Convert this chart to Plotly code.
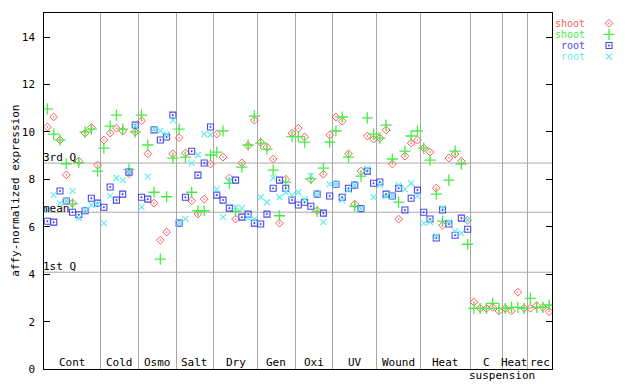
import numpy as np
import plotly.graph_objects as go

groups = ["Cont", "Cold", "Osmo", "Salt", "Dry", "Gen", "Oxi", "UV", "Wound", "Heat", "C", "Heat", "rec"]
counts = [9, 6, 6, 6, 7, 6, 6, 7, 7, 8, 5, 4, 4]

shoot_red = [10.21, 10.63, 9.66, 8.19, 7.0, 8.77, 9.95, 10.19, 8.6,
             9.66, 9.95, 10.16, 10.04, 8.24, 10.0,
             10.47, 9.08, 7.0, 5.44, 5.78, 9.08,
             9.76, 9.11, 7.1, 6.54, 7.17, 8.65,
             9.91, 8.94, 8.06, 6.33, 8.7, 9.42, 10.5,
             9.56, 9.36, 8.86, 6.16, 8.01, 9.95,
             10.16, 9.79, 8.0, 6.69, 8.22, 9.87,
             10.63, 10.45, 9.08, 6.96, 8.35, 9.83, 9.7,
             9.74, 10.08, 8.65, 6.33, 8.98, 9.53, 9.66,
             9.32, 9.15, 7.63, 6.07, 8.9, 9.07, 8.77, 6.28,
             2.83, 2.57, 2.57, 2.61, 2.46,
             2.57, 2.46, 3.25, 2.57,
             2.57, 2.68, 2.61, 2.43]
shoot_green = [10.97, 9.91, 9.66, 8.66, 6.97, 8.71, 10.0, 10.12, 8.35,
               9.32, 10.25, 10.71, 10.12, 8.42, 10.0,
               10.71, 9.45, 7.46, 4.64, 7.27, 8.9,
               10.12, 8.94, 7.46, 6.68, 6.68, 9.03,
               9.15, 10.04, 7.84, 6.66, 8.52, 9.45, 10.67,
               9.53, 9.28, 8.39, 6.47, 7.89, 9.8,
               9.8, 9.57, 8.03, 6.65, 8.48, 9.57,
               10.04, 10.63, 8.94, 6.87, 8.14, 10.59, 9.91,
               9.74, 10.29, 8.86, 7.04, 9.19, 9.83, 10.04,
               9.32, 8.81, 7.38, 6.24, 7.97, 9.19, 8.65, 5.27,
               2.57, 2.57, 2.57, 2.78, 2.57,
               2.57, 2.61, 2.61, 2.57,
               2.99, 2.61, 2.61, 2.71]
root_blue = [6.24, 6.2, 7.51, 7.09, 6.62, 6.51, 6.68, 7.21, 7.0,
             6.83, 7.68, 7.13, 7.38, 8.31, 10.29,
             7.25, 7.17, 10.09, 9.66, 9.79, 10.71,
             6.16, 7.25, 9.19, 8.18, 8.69, 10.21,
             7.34, 7.13, 6.79, 7.97, 6.41, 6.54, 6.16,
             6.12, 6.54, 7.63, 7.97, 7.63, 7.13,
             6.92, 7.04, 6.87, 7.38, 6.58, 7.3,
             7.8, 7.25, 7.63, 7.76, 6.77, 8.35, 7.84,
             7.89, 7.38, 7.3, 7.63, 6.71, 7.21, 7.55,
             6.62, 6.33, 5.53, 6.71, 6.12, 5.65, 6.37, 5.9] + [None] * 13
root_cyan = [6.72, 7.35, 7.0, 7.09, 7.52, 6.37, 6.72, 6.93, 6.96,
             6.16, 7.31, 8.06, 7.97, 8.33, 10.26,
             6.83, 8.12, 10.12, 10.05, 9.9, 10.49,
             6.16, 6.34, 8.69, 9.03, 9.91, 9.88,
             7.59, 6.41, 7.95, 6.83, 6.79, 6.37, 6.33,
             7.25, 7.04, 8.06, 7.25, 7.46, 7.34,
             7.46, 7.17, 8.15, 7.38, 6.2, 7.8,
             7.8, 7.13, 7.55, 7.76, 6.77, 8.44, 7.25,
             7.76, 7.3, 7.3, 7.76, 7.59, 7.84, 7.3,
             6.16, 6.2, 5.61, 6.79, 6.2, 5.82, 5.74, 6.28] + [None] * 13

quartile_names = ["3rd Q", "mean", "1st Q"]
quartile_values = [8.69, 6.62, 4.09]
y_ticks = [0, 2, 4, 6, 8, 10, 12, 14]

series_names = ["shoot", "shoot", "root", "root"]
series_colors = ["#ff5a5a", "#44ee44", "#4848ee", "#66eeee"]

FONT = "DejaVu Sans Mono"
W, H = 640, 384
OFF = 8  # page body margin offset
total = sum(counts)
x = np.arange(total) + 0.5
bounds = np.cumsum([0] + counts)
centers = (bounds[:-1] + bounds[1:]) / 2

styles = [
    dict(symbol="diamond-open-dot", size=6, line=dict(width=1)),
    dict(symbol="cross-thin", size=8, line=dict(width=1.3)),
    dict(symbol="square-open-dot", size=6, line=dict(width=1.1)),
    dict(symbol="x-thin", size=6, line=dict(width=1.2)),
]

fig = go.Figure()
for vals, name, col, st in zip([shoot_red, shoot_green, root_blue, root_cyan], series_names, series_colors, styles):
    m = dict(st)
    m["color"] = col
    m["line"] = dict(st["line"], color=col)
    fig.add_trace(go.Scatter(x=x, y=vals, mode="markers", name=name, marker=m, showlegend=False))

# legend drawn in a pixel-space overlay axis
for i, (name, col, st) in enumerate(zip(series_names, series_colors, styles)):
    m = dict(st)
    m["color"] = col
    m["line"] = dict(st["line"], color=col)
    ypix = 23.3 + 11.1 * i - OFF
    fig.add_trace(go.Scatter(x=[609 - OFF], y=[ypix], mode="markers", marker=m, xaxis="x2", yaxis="y2",
                             showlegend=False, hoverinfo="skip"))
    fig.add_annotation(x=586 - OFF, y=ypix, xref="x2", yref="y2", text=name, showarrow=False,
                       xanchor="right", yanchor="middle", borderpad=0,
                       font=dict(family=FONT, size=10, color=col))

x0, x1 = (44.3 - OFF) / W, (552.3 - OFF) / W
y0, y1 = (H - (369.3 - OFF)) / H, (H - (13.3 - OFF)) / H

for name, v, ys in zip(quartile_names, quartile_values, [-3, -4.5, -2.5]):
    fig.add_shape(type="line", xref="x domain", yref="y", x0=0, x1=1, y0=v, y1=v,
                  line=dict(color="#a8a8a8", width=1), layer="below")
    fig.add_annotation(xref="x domain", yref="y", x=0, y=v, text=name, showarrow=False,
                       xanchor="left", yanchor="bottom", xshift=-3, yshift=ys,
                       font=dict(family=FONT, size=11, color="black"))

for g, c in zip(groups, centers):
    fig.add_annotation(x=c, y=0, xref="x", yref="y", text=g, showarrow=False,
                       yanchor="bottom", yshift=-2, font=dict(family=FONT, size=11, color="black"))
fig.add_annotation(x=bounds[11], y=0, xref="x", yref="y", text="suspension", showarrow=False,
                   yanchor="top", yshift=1, borderpad=0,
                   font=dict(family=FONT, size=11, color="black"))

fig.add_annotation(xref="paper", yref="paper", x=0, y=(H - (191.3 - OFF)) / H,
                   text="affy-normalized expression", textangle=-90, showarrow=False,
                   xanchor="left", yanchor="middle", borderpad=0,
                   font=dict(family=FONT, size=11, color="black"))

fig.update_layout(
    width=W, height=H,
    margin=dict(l=0, r=0, t=0, b=0),
    paper_bgcolor="white", plot_bgcolor="rgba(0,0,0,0)",
    template="none",
    showlegend=False,
    font=dict(family=FONT, size=11, color="black"),
    xaxis=dict(domain=[x0, x1], range=[0, total], tickvals=list(bounds[1:-1]), showticklabels=False,
               ticks="", showgrid=True, gridcolor="#a8a8a8", gridwidth=1, zeroline=False,
               showline=True, linecolor="black", linewidth=1, mirror=True, automargin=False),
    yaxis=dict(domain=[y0, y1], range=[0, 15], tickvals=y_ticks, ticks="inside", ticklen=6,
               tickcolor="black", showgrid=False, zeroline=False, showline=True, linecolor="black",
               linewidth=1, mirror="ticks", ticklabelstandoff=6, automargin=False,
               tickfont=dict(family=FONT, size=11, color="black")),
    xaxis2=dict(domain=[0, 1], range=[0, W], visible=False, anchor="y2", fixedrange=True),
    yaxis2=dict(domain=[0, 1], range=[H, 0], visible=False, anchor="x2", fixedrange=True),
)

fig.write_html("out.html")
